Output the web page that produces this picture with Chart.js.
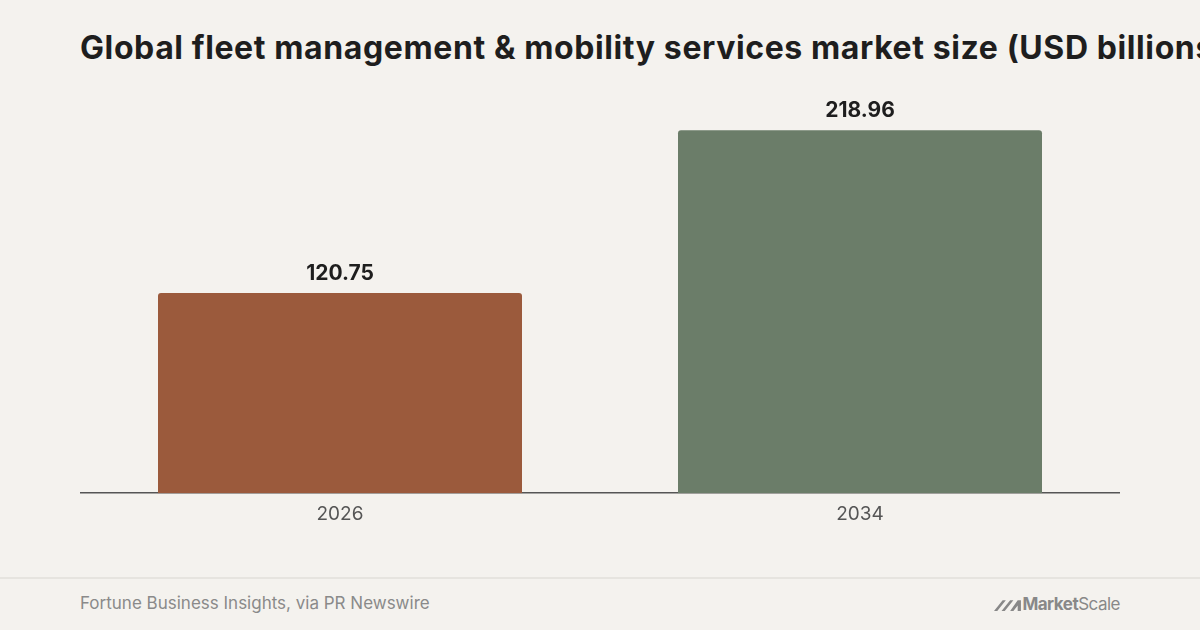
<!DOCTYPE html>
<html><head><meta charset="utf-8">
<script src="https://cdn.jsdelivr.net/npm/chart.js"></script>
<style>
body{margin:0;width:1200px;height:630px;background:#f4f2ee;position:relative;overflow:hidden;font-family:Inter,sans-serif}
#t{position:absolute;left:80px;top:28px;font-size:32px;font-weight:700;color:#1e1e1e;white-space:nowrap;letter-spacing:0.6px}
#w{position:absolute;left:80px;top:60px;width:1040px;height:468px}
#f{position:absolute;left:0;top:577px;width:1200px;border-top:2px solid #e6e4df}
#s{position:absolute;left:80px;top:593px;font-size:17px;color:#8a8a8a}
#l{position:absolute;right:80px;top:594px;font-size:17px;color:#888;letter-spacing:-0.5px}
</style></head><body>
<div id="t">Global fleet management &amp; mobility services market size (USD billions)</div>
<div id="w"><canvas id="c"></canvas></div>
<div id="f"></div>
<div id="s">Fortune Business Insights, via PR Newswire</div>
<div id="l"><svg width="28" height="13" viewBox="0 0 26 12" style="vertical-align:-1px"><path d="M0 12 L8 2 L11 2 L3 12Z M7 12 L15 2 L18 2 L10 12Z M15 12 L22 2 L25 2 L25 12 L22 12 L22 7 L18 12Z" fill="#888"/></svg><b>Market</b>Scale</div>
<script>
const categories=["2026","2034"];
const values=[120.75,218.96];
const colors=["#9b5a3c","#6b7d69"];
const labelPlugin={id:'lbl',afterDatasetsDraw(ch){const ctx=ch.ctx;const m=ch.getDatasetMeta(0);ctx.save();ctx.font='bold 21px Inter';ctx.fillStyle='#1e1e1e';ctx.textAlign='center';ctx.textBaseline='bottom';m.data.forEach((b,i)=>ctx.fillText(values[i].toFixed(2),b.x,b.y-9));ctx.restore();}};
new Chart(document.getElementById('c'),{type:'bar',data:{labels:categories,datasets:[{data:values,backgroundColor:colors,borderRadius:3,borderSkipped:'bottom',categoryPercentage:0.7,barPercentage:1}]},
options:{responsive:true,maintainAspectRatio:false,animation:false,layout:{padding:0},plugins:{legend:{display:false},tooltip:{enabled:false}},
scales:{y:{min:0,max:261.3,display:false},x:{grid:{display:false},border:{color:'#555',width:1.5},ticks:{color:'#555',font:{family:'Inter',size:19},padding:2}}}},plugins:[labelPlugin]});
</script></body></html>
